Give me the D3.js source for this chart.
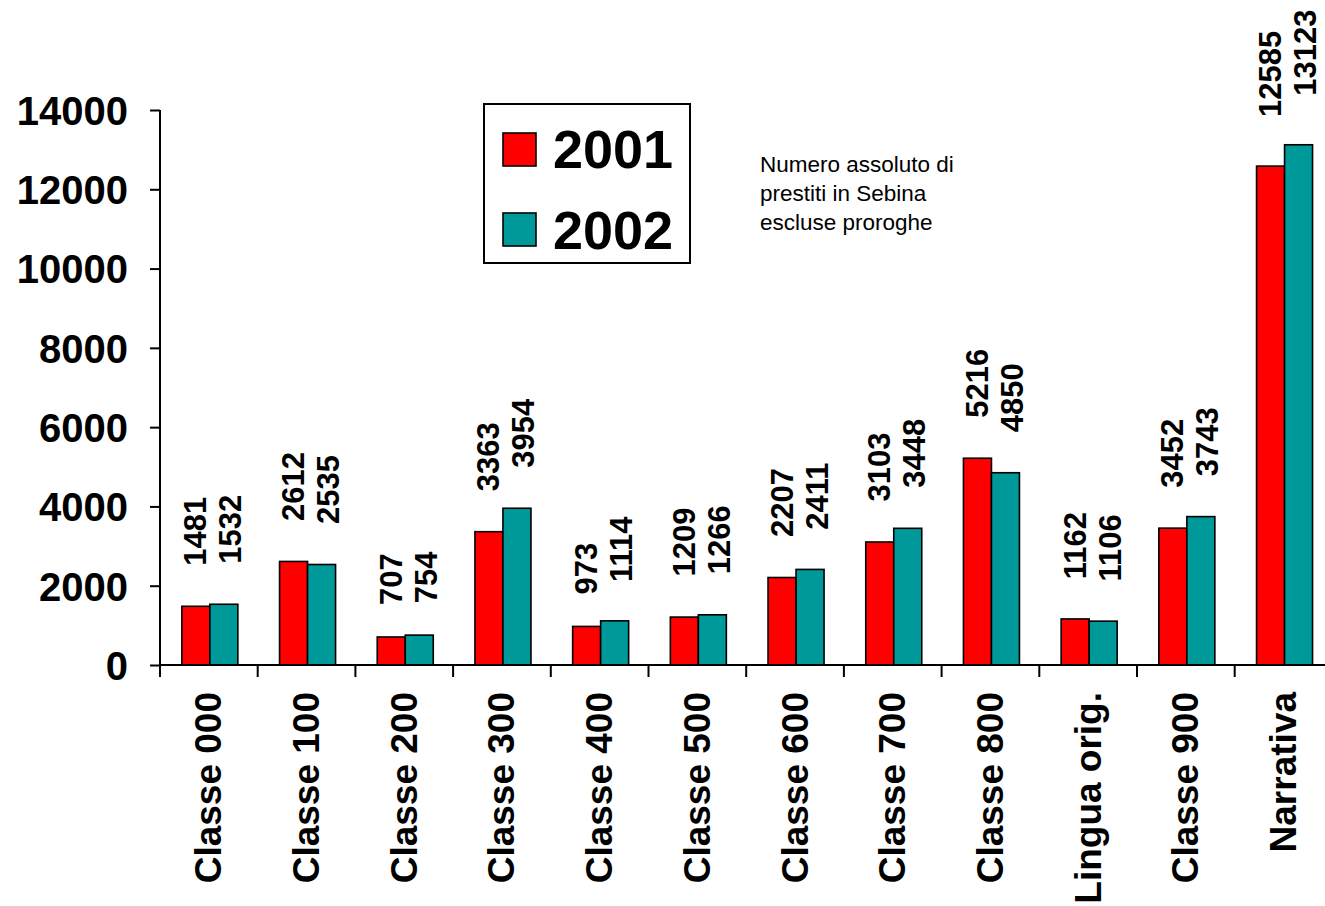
<!DOCTYPE html>
<html><head><meta charset="utf-8">
<script src="https://cdn.jsdelivr.net/npm/d3@7"></script>
<style>body{margin:0;background:#fff}svg{display:block}</style>
</head><body>
<svg id="chart" width="1325" height="906"></svg>
<script>
const categories = ["Classe 000","Classe 100","Classe 200","Classe 300","Classe 400","Classe 500","Classe 600","Classe 700","Classe 800","Lingua orig.","Classe 900","Narrativa"];
const values2001 = [1481,2612,707,3363,973,1209,2207,3103,5216,1162,3452,12585];
const values2002 = [1532,2535,754,3954,1114,1266,2411,3448,4850,1106,3743,13123];
const seriesNames = ["2001","2002"];
const seriesColors = ["#FF0000","#009999"];
const yTicks = [0,2000,4000,6000,8000,10000,12000,14000];
const noteLines = ["Numero assoluto di","prestiti in Sebina","escluse proroghe"];

const FONT = "'Liberation Sans', Arial, Helvetica, sans-serif";
const svg = d3.select("#chart");
const x0 = 160, baseY = 665, topY = 110;
const x = d3.scaleBand().domain(categories).range([x0, x0 + 12*97.7]).padding(0);
const y = d3.scaleLinear().domain([0,14000]).range([baseY, topY]);
const barW = 28;

// bars
const series = [values2001, values2002];
series.forEach((vals, si) => {
  svg.append("g").selectAll("rect").data(categories).join("rect")
    .attr("x", (c) => x(c) + x.bandwidth()/2 + 1 + (si === 0 ? -barW : 0))
    .attr("y", (c,i) => y(vals[i]))
    .attr("width", barW)
    .attr("height", (c,i) => baseY - y(vals[i]))
    .attr("fill", seriesColors[si])
    .attr("stroke", "#000").attr("stroke-width", 1.6);
});

// value labels
series.forEach((vals, si) => {
  svg.append("g").selectAll("text").data(categories).join("text")
    .text((c,i) => vals[i])
    .attr("font-family", FONT).attr("font-weight", "bold").attr("font-size", 31)
    .attr("dominant-baseline", "central")
    .attr("text-anchor", "start")
    .each(function(c,i){
      const L = this.getComputedTextLength();
      const cx = x(c) + x.bandwidth()/2 + 1 + (si === 0 ? -barW/2 + 0 : barW/2 + 7);
      const yb = y(vals[i]) - 6 - L/2;
      d3.select(this).attr("transform", `translate(${cx},${yb}) rotate(-90)`);
    });
});

// y axis
const ya = svg.append("g").attr("transform", `translate(${x0},0)`)
  .call(d3.axisLeft(y).tickValues(yTicks).tickSize(10).tickPadding(22).tickFormat(d3.format("d")));
ya.select(".domain").remove();
ya.selectAll(".tick line").attr("stroke", "#000").attr("stroke-width", 2);
ya.selectAll(".tick text").attr("font-family", FONT).attr("font-weight", "bold").attr("font-size", 40).attr("fill", "#000").attr("dy", "0.36em");
svg.append("line").attr("x1", x0).attr("x2", x0).attr("y1", y(14000)).attr("y2", baseY + 12).attr("stroke", "#000").attr("stroke-width", 2);

// x axis
svg.append("line").attr("x1", x0).attr("x2", 1325).attr("y1", baseY).attr("y2", baseY).attr("stroke", "#000").attr("stroke-width", 2);
const bounds = categories.map(c => x(c)).concat([x.range()[1]]);
svg.append("g").selectAll("line").data(bounds).join("line")
  .attr("x1", d => d).attr("x2", d => d).attr("y1", baseY).attr("y2", baseY + 12)
  .attr("stroke", "#000").attr("stroke-width", 2);
svg.append("g").selectAll("text").data(categories).join("text")
  .text(d => d)
  .attr("font-family", FONT).attr("font-weight", "bold").attr("font-size", 37)
  .attr("text-anchor", "end").attr("dominant-baseline", "central")
  .attr("transform", d => `translate(${x(d) + x.bandwidth()/2},692) rotate(-90)`);

// legend
const lg = svg.append("g");
lg.append("rect").attr("x", 484).attr("y", 104).attr("width", 206).attr("height", 159)
  .attr("fill", "#fff").attr("stroke", "#000").attr("stroke-width", 2);
seriesNames.forEach((n, i) => {
  const yy = 133 + i*80;
  lg.append("rect").attr("x", 503).attr("y", yy).attr("width", 33).attr("height", 33)
    .attr("fill", seriesColors[i]).attr("stroke", "#000").attr("stroke-width", 1.6);
  lg.append("text").text(n).attr("x", 553).attr("y", 168 + i*81)
    .attr("font-family", FONT).attr("font-weight", "bold").attr("font-size", 54).attr("fill", "#000");
});

// note
svg.append("g").selectAll("text").data(noteLines).join("text")
  .text(d => d)
  .attr("x", 760).attr("y", (d,i) => 172 + i*29)
  .attr("font-family", FONT).attr("font-size", 22.5).attr("fill", "#000");
</script>
</body></html>
